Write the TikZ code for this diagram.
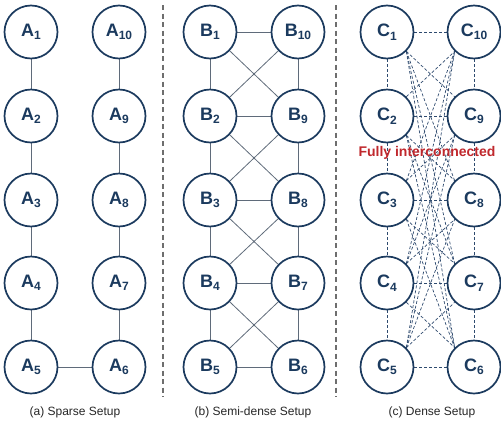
\documentclass[tikz,border=0pt]{standalone}
\usepackage{fontspec}
\setmainfont{Liberation Sans}
\definecolor{navy}{HTML}{1B3A5E}
\definecolor{edgegray}{HTML}{5F6B7A}
\definecolor{dashnavy}{HTML}{2E4A6E}
\definecolor{sepgray}{HTML}{6E6E6E}
\definecolor{fullred}{HTML}{C0282D}
\pgfdeclarelayer{bg}
\pgfsetlayers{bg,main}
\newcommand\lbl[2]{#1\raisebox{-3.5pt}{\fontsize{12}{12}\selectfont #2}}
\begin{document}
\begin{tikzpicture}[x=1pt,y=-1pt,
  nd/.style={circle,draw=navy,line width=1.7pt,fill=white,minimum size=53pt,inner sep=0pt,font=\bfseries\fontsize{18}{18}\selectfont,text=navy},
  edge/.style={draw=edgegray,line width=0.8pt},
  dedge/.style={draw=dashnavy,line width=0.7pt,dash pattern=on 3pt off 2pt},
  sepline/.style={draw=sepgray,line width=1.3pt,dash pattern=on 5pt off 3.5pt},
  captxt/.style={font=\fontsize{12}{12}\selectfont,text=black!85}]
\useasboundingbox (0,0) rectangle (501,421);
\foreach \i/\y in {1/32,2/116,3/200,4/283,5/367} {
  \pgfmathtruncatemacro\j{11-\i}
  \node[nd] (A\i) at (31,\y) {\lbl{A}{\i}};
  \node[nd] (A\j) at (119,\y) {\lbl{A}{\j}};
  \node[nd] (B\i) at (210,\y) {\lbl{B}{\i}};
  \node[nd] (B\j) at (298,\y) {\lbl{B}{\j}};
  \node[nd] (C\i) at (387,\y) {\lbl{C}{\i}};
  \node[nd] (C\j) at (474,\y) {\lbl{C}{\j}};
}
\begin{pgfonlayer}{bg}
\foreach \i in {1,...,4} {
  \pgfmathtruncatemacro\n{\i+1}
  \pgfmathtruncatemacro\r{11-\i}
  \pgfmathtruncatemacro\rn{10-\i}
  \draw[edge] (A\i) -- (A\n);
  \draw[edge] (A\r) -- (A\rn);
  \draw[edge] (B\i) -- (B\n);
  \draw[edge] (B\r) -- (B\rn);
  \draw[edge] (B\i) -- (B\rn);
  \draw[edge] (B\r) -- (B\n);
  \draw[dedge] (C\i) -- (C\n);
  \draw[dedge] (C\r) -- (C\rn);
}
\foreach \i in {1,...,5} {
  \pgfmathtruncatemacro\r{11-\i}
  \draw[edge] (B\i) -- (B\r);
}
\draw[edge] (A5) -- (A6);
% left column to right column
\foreach \a in {1,...,5} {
  \foreach \b in {1,...,5} {
    \pgfmathtruncatemacro\jj{11-\b}
    \ifnum\a=\b
      \draw[dedge] (C\a) -- (C\jj);
    \else\ifnum\b>\a
      \draw[dedge] (C\a.south east) -- (C\jj.north west);
    \else
      \draw[dedge] (C\a.north east) -- (C\jj.south west);
    \fi\fi
  }
}
\end{pgfonlayer}
\coordinate (s1t) at (163,5);
\coordinate (s1b) at (163,397);
\coordinate (s2t) at (336,5);
\coordinate (s2b) at (336,397);
\draw[sepline] (s1t) -- (s1b);
\draw[sepline] (s2t) -- (s2b);
\node[font=\bfseries\fontsize{14}{14}\selectfont,text=fullred] (full) at (427,153) {Fully interconnected};
\node[captxt] (capa) at (75,412) {(a) Sparse Setup};
\node[captxt] (capb) at (253,412) {(b) Semi-dense Setup};
\node[captxt] (capc) at (432,412) {(c) Dense Setup};
\end{tikzpicture}
\end{document}
